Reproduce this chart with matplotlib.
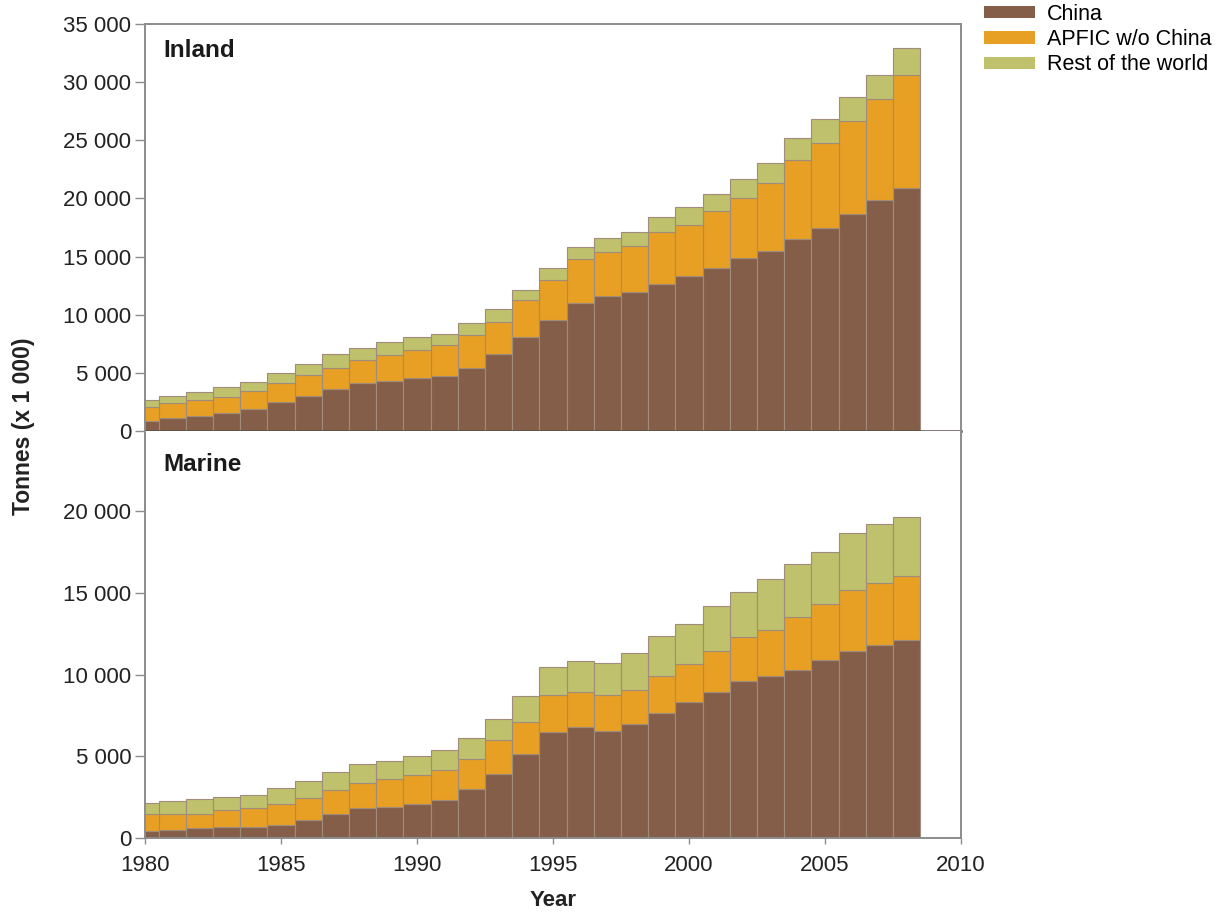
import numpy as np
import matplotlib
matplotlib.use("Agg")
import matplotlib.pyplot as plt
from matplotlib.patches import Patch
from matplotlib.ticker import FuncFormatter

plt.rcParams['font.family'] = ['Liberation Sans', 'DejaVu Sans']

years = np.arange(1980, 2009)

# Inland (thousand tonnes), cumulative tops
inland_china = [890, 1090, 1320, 1520, 1860, 2470, 3010, 3580, 4100, 4300,
                4590, 4730, 5450, 6620, 8060, 9550, 11030, 11610, 11930, 12610,
                13330, 13990, 14850, 15510, 16480, 17490, 18660, 19870, 20870]
inland_apfic_top = [2090, 2430, 2670, 2950, 3470, 4100, 4820, 5450, 6110, 6540,
                    6970, 7400, 8260, 9400, 11270, 12990, 14770, 15420, 15910, 17080,
                    17720, 18940, 20010, 21360, 23310, 24800, 26690, 28530, 30620]
inland_total = [2670, 3010, 3380, 3760, 4240, 5020, 5730, 6590, 7170, 7680,
                8060, 8340, 9320, 10460, 12130, 13990, 15800, 16630, 17080, 18380,
                19230, 20380, 21670, 23020, 25170, 26830, 28690, 30620, 32910]

# Marine (thousand tonnes)
marine_china = [430, 470, 580, 640, 670, 820, 1080, 1490, 1840, 1900,
                2100, 2350, 2980, 3900, 5160, 6510, 6790, 6540, 6950, 7650,
                8320, 8930, 9600, 9890, 10260, 10870, 11420, 11830, 12130]
marine_apfic_top = [1490, 1490, 1490, 1690, 1860, 2100, 2470, 2960, 3360, 3630,
                    3840, 4140, 4860, 6020, 7120, 8730, 8930, 8730, 9030, 9890,
                    10670, 11420, 12290, 12740, 13520, 14330, 15150, 15620, 16020]
marine_total = [2140, 2260, 2370, 2510, 2650, 3060, 3470, 4040, 4550, 4690,
                5020, 5360, 6140, 7300, 8670, 10440, 10830, 10700, 11320, 12340,
                13110, 14170, 15050, 15860, 16740, 17490, 18680, 19230, 19630]

series_names = ["China", "APFIC w/o China", "Rest of the world"]
colors = ["#855e49", "#e8a024", "#bfc16d"]
edge = "#a08c7a"
spine_col = "#8c8c8c"
txt = "#222222"


def fmt(v, _):
    return "0" if v == 0 else f"{int(v):,}".replace(",", " ")


fig = plt.figure(figsize=(12.26, 9.17), dpi=100)
ax1 = fig.add_axes([0.1183, 0.530, 0.6656, 0.4438])
ax2 = fig.add_axes([0.1183, 0.0862, 0.6656, 0.4438])

panels = [
    (ax1, inland_china, inland_apfic_top, inland_total, 35000, "Inland"),
    (ax2, marine_china, marine_apfic_top, marine_total, 24900, "Marine"),
]
for ax, ch, ap, tot, ymax, title in panels:
    ch, ap, tot = np.array(ch), np.array(ap), np.array(tot)
    parts = [ch, ap - ch, tot - ap]
    bottom = np.zeros(len(years))
    for vals, c in zip(parts, colors):
        ax.bar(years, vals, bottom=bottom, width=1.0, color=c,
               edgecolor=edge, linewidth=0.8)
        bottom += vals
    ax.set_xlim(1980, 2010)
    ax.set_ylim(0, ymax)
    ax.set_yticks(np.arange(0, ymax + 1, 5000))
    ax.yaxis.set_major_formatter(FuncFormatter(fmt))
    ax.tick_params(axis="y", direction="out", length=7, width=1,
                   color=spine_col, labelsize=16, pad=3, labelcolor=txt)
    for s in ["left", "right", "top", "bottom"]:
        ax.spines[s].set_color(spine_col)
        ax.spines[s].set_linewidth(1.4)
    ax.text(0.022, 0.962 if title == "Inland" else 0.945, title,
            transform=ax.transAxes, fontsize=17.5, fontweight="bold",
            ha="left", va="top", color="#1a1a1a")

ax1.set_xticks([])
ax1.spines["bottom"].set_color("#5a504a")
ax1.spines["bottom"].set_linewidth(1.8)
ax2.spines["top"].set_visible(False)
ax2.set_xticks(np.arange(1980, 2011, 5))
ax2.tick_params(axis="x", direction="out", length=4, width=1,
                color=spine_col, labelsize=16, pad=8, labelcolor=txt)
ax2.set_xlabel("Year", fontsize=16, fontweight="bold", labelpad=10, color=txt)

fig.text(0.019, 0.535, "Tonnes (x 1 000)", rotation=90, fontsize=16.5,
         fontweight="bold", ha="center", va="center", color=txt)

handles = [Patch(facecolor=c, edgecolor="none") for c in colors]
fig.legend(handles, series_names, loc="upper left",
           bbox_to_anchor=(0.797, 1.003), frameon=False, fontsize=15.5,
           handlelength=2.4, handleheight=0.5, handletextpad=0.55,
           labelspacing=0.2, borderaxespad=0.0, borderpad=0.3)

fig.savefig("out.png", dpi=100, facecolor="white")
